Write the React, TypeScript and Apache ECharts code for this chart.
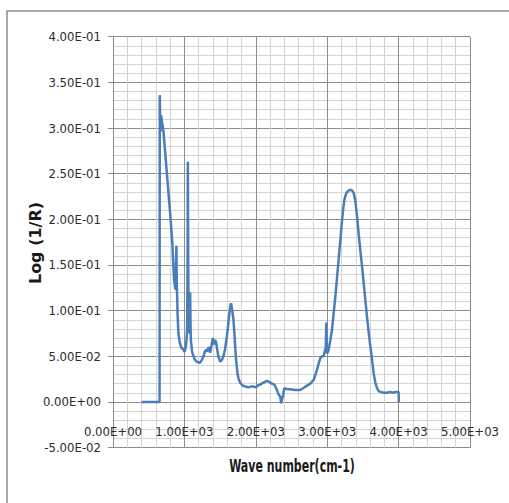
import React, { useEffect, useRef } from "react";
import * as echarts from "echarts";

const waveNumbers: number[] = [
  400, 500, 600, 652, 655, 660, 666, 673, 690, 705, 750, 800, 830, 855, 874, 880, 888, 892, 895, 905,
  916, 935, 954, 986, 1003, 1024, 1038, 1044, 1048, 1052, 1056, 1063, 1070, 1075, 1080, 1085, 1090,
  1108, 1126, 1150, 1174, 1220, 1245, 1267, 1290, 1304, 1318, 1337, 1350, 1360, 1380, 1398, 1416,
  1431, 1445, 1454, 1475, 1501, 1525, 1547, 1570, 1595, 1610, 1627, 1645, 1655, 1670, 1687, 1700,
  1711, 1725, 1743, 1760, 1781, 1815, 1851, 1900, 1940, 1968, 2000, 2030, 2062, 2100, 2156, 2190,
  2226, 2260, 2286, 2320, 2342, 2356, 2370, 2380, 2398, 2440, 2482, 2550, 2623, 2700, 2763, 2809,
  2835, 2857, 2880, 2903, 2927, 2950, 2965, 2973, 2980, 2987, 2993, 2997, 3020, 3045, 3067, 3090,
  3114, 3140, 3160, 3185, 3208, 3225, 3240, 3260, 3278, 3310, 3338, 3355, 3370, 3395, 3418, 3440,
  3464, 3490, 3511, 3535, 3558, 3580, 3604, 3630, 3651, 3675, 3698, 3720, 3745, 3790, 3839, 3880,
  3920, 3960, 4001, 4003,
];

const logInvR: number[] = [
  0, 0, 0, 0, 0.336, 0.31, 0.296, 0.314, 0.305, 0.298, 0.255, 0.207, 0.175, 0.134, 0.123, 0.14, 0.171,
  0.14, 0.125, 0.095, 0.075, 0.065, 0.06, 0.057, 0.055, 0.062, 0.08, 0.15, 0.263, 0.18, 0.119, 0.09,
  0.075, 0.1, 0.12, 0.09, 0.068, 0.055, 0.05, 0.046, 0.044, 0.043, 0.046, 0.05, 0.056, 0.057, 0.055,
  0.06, 0.058, 0.054, 0.062, 0.07, 0.063, 0.068, 0.065, 0.06, 0.05, 0.044, 0.046, 0.05, 0.058, 0.072,
  0.082, 0.095, 0.106, 0.108, 0.1, 0.09, 0.075, 0.061, 0.045, 0.032, 0.025, 0.021, 0.018, 0.017, 0.016,
  0.017, 0.017, 0.016, 0.018, 0.019, 0.021, 0.023, 0.022, 0.02, 0.019, 0.015, 0.008, 0.006, -0.0015,
  0.004, 0.006, 0.015, 0.014, 0.014, 0.013, 0.013, 0.017, 0.02, 0.024, 0.03, 0.035, 0.042, 0.048, 0.05,
  0.05, 0.055, 0.057, 0.06, 0.087, 0.065, 0.053, 0.057, 0.068, 0.079, 0.097, 0.115, 0.138, 0.156, 0.178,
  0.199, 0.212, 0.221, 0.227, 0.23, 0.232, 0.232, 0.231, 0.229, 0.22, 0.203, 0.185, 0.166, 0.147, 0.13,
  0.111, 0.093, 0.077, 0.061, 0.045, 0.031, 0.021, 0.015, 0.012, 0.011, 0.01, 0.01, 0.011, 0.01, 0.011,
  0.011, 0,
];

const xTitle = "Wave number(cm-1)";
const yTitle = "Log (1/R)";

function sci(v: number): string {
  const r = Math.round(v * 1e8) / 1e8;
  const s = r.toExponential(2);
  const [m, e] = s.split("e");
  const sign = e[0] === "-" ? "-" : "+";
  const digits = e.replace(/[+-]/, "").padStart(2, "0");
  return `${m}E${sign}${digits}`;
}

export default function App() {
  const ref = useRef<HTMLDivElement>(null);
  useEffect(() => {
    if (!ref.current) return;
    const chart = echarts.init(ref.current, undefined, { renderer: "svg" });
    const labelFont = "'DejaVu Sans Condensed', 'DejaVu Sans', sans-serif";
    chart.setOption({
      animation: false,
      backgroundColor: "#ffffff",
      grid: { left: 113, top: 36.7, right: 39, bottom: 55.4, containLabel: false },
      xAxis: {
        type: "value",
        min: 0,
        max: 5000,
        interval: 1000,
        axisLine: { show: false },
        axisTick: { show: false },
        axisLabel: {
          margin: -23,
          formatter: (v: number) => sci(v),
          fontFamily: labelFont,
          fontSize: 13,
          color: "#2b2b2b",
        },
        splitLine: { show: true, lineStyle: { color: "#8c8c8c", width: 1 } },
        minorTick: { show: false, splitNumber: 5 },
        minorSplitLine: { show: true, lineStyle: { color: "#d4d4d4", width: 1 } },
      },
      yAxis: {
        type: "value",
        min: -0.05,
        max: 0.4,
        interval: 0.05,
        axisLine: { show: true, lineStyle: { color: "#8c8c8c" } },
        axisTick: { show: true, length: 5, lineStyle: { color: "#8c8c8c" } },
        axisLabel: {
          margin: 12,
          formatter: (v: number) => sci(v),
          fontFamily: labelFont,
          fontSize: 13,
          color: "#2b2b2b",
        },
        splitLine: { show: true, lineStyle: { color: "#8c8c8c", width: 1 } },
        minorTick: { show: false, splitNumber: 5 },
        minorSplitLine: { show: true, lineStyle: { color: "#d4d4d4", width: 1 } },
      },
      graphic: [
        {
          type: "rect",
          shape: { x: 7, y: 11, width: 560, height: 560 },
          style: { fill: "none", stroke: "#8c8c8c", lineWidth: 1.5 },
          silent: true,
        },
        {
          type: "text",
          x: 35,
          y: 243,
          rotation: Math.PI / 2,
          style: {
            text: yTitle,
            font: "bold 16px 'DejaVu Sans', sans-serif",
            fill: "#1a1a1a",
            align: "center",
            verticalAlign: "middle",
          },
        },
        {
          type: "text",
          x: 292,
          y: 466,
          scaleX: 0.72,
          style: {
            text: xTitle,
            font: "bold 17px 'DejaVu Sans Condensed', 'DejaVu Sans', sans-serif",
            fill: "#1a1a1a",
            align: "center",
            verticalAlign: "middle",
          },
        },
      ],
      series: [
        {
          type: "line",
          data: waveNumbers.map((x, i) => [x, logInvR[i]]),
          showSymbol: false,
          symbol: "none",
          lineStyle: { color: "#4A7EBB", width: 2.5 },
          z: 5,
        },
      ],
    });
    return () => chart.dispose();
  }, []);
  return (
    <div
      ref={ref}
      style={{ position: "fixed", left: 0, top: 0, width: 509, height: 503, background: "#fff" }}
    />
  );
}
